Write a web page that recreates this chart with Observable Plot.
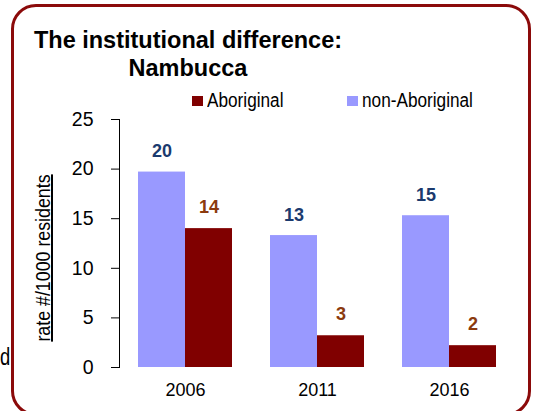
<!DOCTYPE html>
<html>
<head>
<meta charset="utf-8">
<script src="https://cdn.jsdelivr.net/npm/d3@7"></script>
<script src="https://cdn.jsdelivr.net/npm/@observablehq/plot@0.6"></script>
<style>
  html, body { margin: 0; padding: 0; background: #fff; }
  body { font-family: "Liberation Sans", Arial, Helvetica, sans-serif; color: #000; }
  #wrap { position: relative; width: 535px; height: 411px; overflow: hidden; }
  #chart { position: absolute; left: 0; top: 0; }
  #frame { position: absolute; left: 11px; top: 4px; width: 520px; height: 412px;
           box-sizing: border-box; border: 3px solid #8B0A0A; border-radius: 25px; pointer-events: none; }
  #title { position: absolute; left: 0; top: 26px; width: 376px; text-align: center;
           font-weight: bold; font-size: 23.5px; line-height: 28px; }
  .sw { position: absolute; width: 11px; height: 10px; }
  .lt { position: absolute; font-size: 20px; line-height: 20px; white-space: nowrap;
        transform: scaleX(0.86); transform-origin: left center; }
  #ylabel { position: absolute; left: 43px; top: 258px; font-size: 20px; line-height: 22px; white-space: nowrap;
            text-decoration: underline; text-decoration-thickness: 2px;
            transform: translate(-50%, -50%) rotate(-90deg) scaleX(0.89); }
  #frag { position: absolute; left: 0px; top: 346px; font-size: 23px; line-height: 23px;
          transform: scaleX(0.8); transform-origin: left center; }
</style>
</head>
<body>
<div id="wrap">
  <div id="chart"></div>
  <div id="title"></div>
  <div id="legend"></div>
  <div id="ylabel"></div>
  <div id="frag">d</div>
  <div id="frame"></div>
</div>
<script>
// ---- data ----
const titleLines = ["The institutional difference:", "Nambucca"];
const years = ["2006", "2011", "2016"];
const seriesNames = ["non-Aboriginal", "Aboriginal"];
const nonAboriginal = [19.7, 13.3, 15.3];
const aboriginal = [14.0, 3.2, 2.2];
const yTicks = [0, 5, 10, 15, 20, 25];
const yLabel = "rate #/1000 residents";
const legendOrder = ["Aboriginal", "non-Aboriginal"];

const barColors = {"non-Aboriginal": "#9999FF", "Aboriginal": "#800000"};
const labelColors = {"non-Aboriginal": "#1B3A6E", "Aboriginal": "#8B3A0E"};

const rows = years.flatMap((yr, i) => [
  {year: yr, series: "non-Aboriginal", value: nonAboriginal[i]},
  {year: yr, series: "Aboriginal", value: aboriginal[i]}
]);

// ---- title / legend / y label ----
document.getElementById("title").innerHTML = titleLines.join("<br>");
document.getElementById("ylabel").textContent = yLabel;
const legendPos = {"Aboriginal": {sw: 192, tx: 207}, "non-Aboriginal": {sw: 347, tx: 362}};
const leg = document.getElementById("legend");
for (const name of legendOrder) {
  const s = document.createElement("div");
  s.className = "sw";
  s.style.left = legendPos[name].sw + "px";
  s.style.top = "96px";
  s.style.background = barColors[name];
  leg.appendChild(s);
  const t = document.createElement("div");
  t.className = "lt";
  t.style.left = legendPos[name].tx + "px";
  t.style.top = "90px";
  t.textContent = name;
  leg.appendChild(t);
}

// ---- chart ----
const chart = Plot.plot({
  width: 535,
  height: 411,
  marginTop: 119,
  marginBottom: 44,
  marginLeft: 118,
  marginRight: 19,
  style: {background: "transparent", fontFamily: "'Liberation Sans', Arial, sans-serif", fontSize: "18px", color: "#000", overflow: "visible"},
  facet: {data: rows, x: "year"},
  fx: {domain: years, padding: 0, axis: "bottom", tickSize: 0, tickPadding: 16, label: null},
  x: {domain: seriesNames, paddingInner: 0, paddingOuter: 0.4, axis: null},
  y: {domain: [0, 25], ticks: yTicks, tickSize: 8, tickPadding: 18, line: true, label: null},
  color: {domain: seriesNames, range: seriesNames.map(s => barColors[s])},
  marks: [
    Plot.barY(rows, {x: "series", y: "value", fill: "series"}),
    Plot.text(rows, {filter: d => d.series === "non-Aboriginal", x: "series", y: "value",
      text: d => String(Math.round(d.value)), dy: -15, lineAnchor: "bottom",
      fill: labelColors["non-Aboriginal"], fontWeight: "bold", fontSize: 18}),
    Plot.text(rows, {filter: d => d.series === "Aboriginal", x: "series", y: "value",
      text: d => String(Math.round(d.value)), dy: -16, lineAnchor: "bottom",
      fill: labelColors["Aboriginal"], fontWeight: "bold", fontSize: 18})
  ]
});
document.getElementById("chart").appendChild(chart);

// style tweaks on axes
const svg = d3.select(chart);
svg.selectAll('[aria-label^="y-axis"] text').attr("font-size", "19.5px");
svg.selectAll('[aria-label="y-axis"] .tick line').attr("stroke", "#777");
svg.selectAll('[aria-label="y-axis tick"]').attr("stroke", "#777");
</script>
</body>
</html>
